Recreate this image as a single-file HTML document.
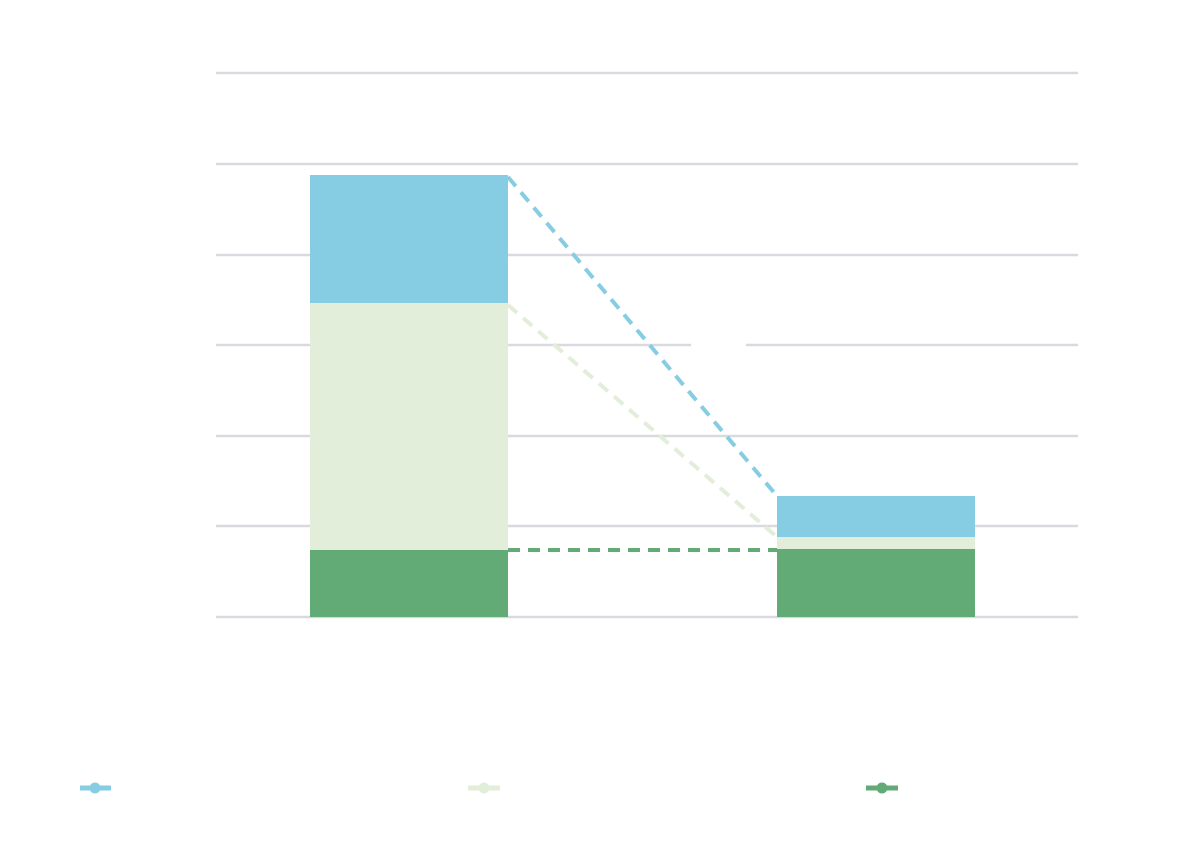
<!DOCTYPE html>
<html><head><meta charset="utf-8"><style>html,body{margin:0;padding:0;background:#fff}</style></head>
<body>
<svg width="1200" height="851" viewBox="0 0 1200 851" xmlns="http://www.w3.org/2000/svg">
<rect width="1200" height="851" fill="#fff"/>
<g stroke="#d9d9e0" stroke-width="2.5">
<line x1="216" y1="73" x2="1078" y2="73"/>
<line x1="216" y1="164" x2="1078" y2="164"/>
<line x1="216" y1="255" x2="1078" y2="255"/>
<line x1="216" y1="345" x2="691" y2="345"/>
<line x1="746" y1="345" x2="1078" y2="345"/>
<line x1="216" y1="436" x2="1078" y2="436"/>
<line x1="216" y1="526" x2="1078" y2="526"/>
<line x1="216" y1="617" x2="1078" y2="617"/>
</g>
<rect x="310" y="175" width="198" height="128" fill="#86cde3"/>
<rect x="310" y="303" width="198" height="247" fill="#e2eeda"/>
<rect x="310" y="550" width="198" height="67" fill="#62ab76"/>
<rect x="777" y="496" width="198" height="41" fill="#86cde3"/>
<rect x="777" y="537" width="198" height="12" fill="#e2eeda"/>
<rect x="777" y="549" width="198" height="68" fill="#62ab76"/>
<g stroke-width="4" stroke-dasharray="12,8" fill="none">
<line x1="508" y1="177" x2="777" y2="496" stroke="#86cde3"/>
<line x1="508" y1="305" x2="777" y2="537" stroke="#e2eeda"/>
<line x1="508" y1="550" x2="777" y2="550" stroke="#62ab76"/>
</g>
<g stroke-width="5">
<line x1="80" y1="788" x2="111" y2="788" stroke="#86cde3"/>
<line x1="468" y1="788" x2="500" y2="788" stroke="#e2eeda"/>
<line x1="866" y1="788" x2="898" y2="788" stroke="#62ab76"/>
</g>
<circle cx="95" cy="788" r="5.5" fill="#86cde3"/>
<circle cx="484" cy="788" r="5.5" fill="#e2eeda"/>
<circle cx="882" cy="788" r="5.5" fill="#62ab76"/>
</svg>
</body></html>
